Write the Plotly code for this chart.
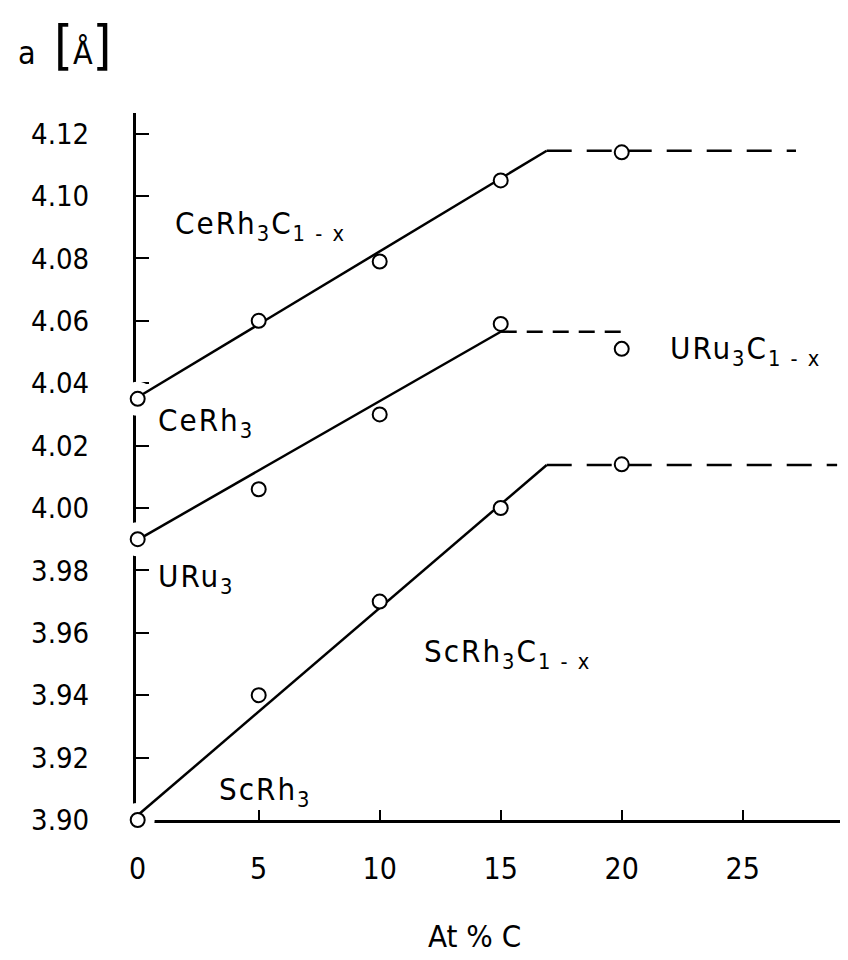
import plotly.graph_objects as go

# ---- data ----
at_pct_c = [0, 5, 10, 15, 20]
a_cerh3 = [4.035, 4.060, 4.079, 4.105, 4.114]
a_uru3 = [3.990, 4.006, 4.030, 4.059, 4.051]
a_scrh3 = [3.900, 3.940, 3.970, 4.000, 4.014]

# fitted guide lines (solid part, then dashed plateau)
ce_fit_x = [0, 16.9]
ce_fit_y = [4.0355, 4.1145]
ce_plat_x = [16.9, 27.2]
ce_plat_y = [4.1145, 4.1145]

uru_fit_x = [0, 15.0]
uru_fit_y = [3.9898, 4.0565]
uru_plat_x = [15.0, 20.0]
uru_plat_y = [4.0565, 4.0565]

sc_fit_x = [0, 16.9]
sc_fit_y = [3.9015, 4.0138]
sc_plat_x = [16.9, 28.9]
sc_plat_y = [4.0138, 4.0138]

y_ticks = [3.90, 3.92, 3.94, 3.96, 3.98, 4.00, 4.02, 4.04, 4.06, 4.08, 4.10, 4.12]
x_ticks = [0, 5, 10, 15, 20, 25]

FONT = "DejaVu Sans Condensed, Liberation Sans Narrow, DejaVu Sans, sans-serif"
W, H = 848, 960
L, R, T, B = 128, 0, 105, 148

fig = go.Figure()

# white halo behind the points sitting on the axis (breaks the axis line there)
all_x = at_pct_c * 3
all_y = a_cerh3 + a_uru3 + a_scrh3
halo_x = [x for x, y in zip(all_x, all_y) if x == 0]
halo_y = [y for x, y in zip(all_x, all_y) if x == 0]
fig.add_trace(go.Scatter(x=halo_x, y=halo_y, mode="markers",
                         marker=dict(size=34, color="white", line=dict(width=0)),
                         cliponaxis=False, hoverinfo="skip", showlegend=False))

solid = dict(color="black", width=2.5)
for fx, fy in [(ce_fit_x, ce_fit_y), (uru_fit_x, uru_fit_y), (sc_fit_x, sc_fit_y)]:
    fig.add_trace(go.Scatter(x=fx, y=fy, mode="lines", line=solid,
                             cliponaxis=False, showlegend=False))
for fx, fy, dash in [(ce_plat_x, ce_plat_y, "25px,15px"),
                     (uru_plat_x, uru_plat_y, "16px,10px"),
                     (sc_plat_x, sc_plat_y, "25px,15px")]:
    fig.add_trace(go.Scatter(x=fx, y=fy, mode="lines",
                             line=dict(color="black", width=2.5, dash=dash),
                             cliponaxis=False, showlegend=False))

for ys in [a_cerh3, a_uru3, a_scrh3]:
    fig.add_trace(go.Scatter(x=at_pct_c, y=ys, mode="markers",
                             marker=dict(symbol="circle", size=14, color="white",
                                         line=dict(color="black", width=2)),
                             cliponaxis=False, showlegend=False))

fig.update_xaxes(range=[-0.07, 29.68], showline=True, linecolor="black", linewidth=3,
                 ticks="inside", ticklen=10, tickwidth=2, tickcolor="black",
                 tickvals=x_ticks, ticktext=[str(v) for v in x_ticks],
                 tickfont=dict(family=FONT, size=30, color="black"),
                 ticklabelstandoff=20,
                 showgrid=False, zeroline=False, layer="below traces")
fig.update_yaxes(range=[3.90, 4.1266], showline=True, linecolor="black", linewidth=3,
                 ticks="inside", ticklen=13, tickwidth=2, tickcolor="black",
                 tickvals=y_ticks, ticktext=[f"{v:.2f}" for v in y_ticks],
                 tickfont=dict(family=FONT, size=29, color="black"),
                 ticklabelstandoff=38,
                 showgrid=False, zeroline=False, layer="below traces")


def px(xp):
    return (xp - L) / (W - L - R)


def py(yp):
    return (H - B - yp) / (H - T - B)


def label(text, xp, yp, size=31, xanchor="left", yanchor="middle"):
    fig.add_annotation(text=text, x=px(xp), y=py(yp), xref="paper", yref="paper",
                       xanchor=xanchor, yanchor=yanchor, showarrow=False,
                       font=dict(family=FONT, size=size, color="black"))


SP = "<span style='letter-spacing:2px'>{}</span>"
label(SP.format("CeRh<sub>3</sub>C<sub>1 - x</sub>"), 165, 218)
label(SP.format("CeRh<sub>3</sub>"), 148, 414)
label(SP.format("URu<sub>3</sub>"), 148, 570)
label(SP.format("URu<sub>3</sub>C<sub>1 - x</sub>"), 660, 342)
label(SP.format("ScRh<sub>3</sub>C<sub>1 - x</sub>"), 414, 645)
label(SP.format("ScRh<sub>3</sub>"), 209, 783)
label("At % C", 466, 928, size=31, xanchor="center")
label("a&nbsp;&nbsp;<span style='font-size:54px'>[</span>Å<span style='font-size:54px'>]</span>",
      8, 38, size=32)

fig.update_layout(width=W, height=H, margin=dict(l=L, r=R, t=T, b=B),
                  plot_bgcolor="white", paper_bgcolor="white", showlegend=False,
                  font=dict(family=FONT, color="black"))

fig.write_html("out.html")
